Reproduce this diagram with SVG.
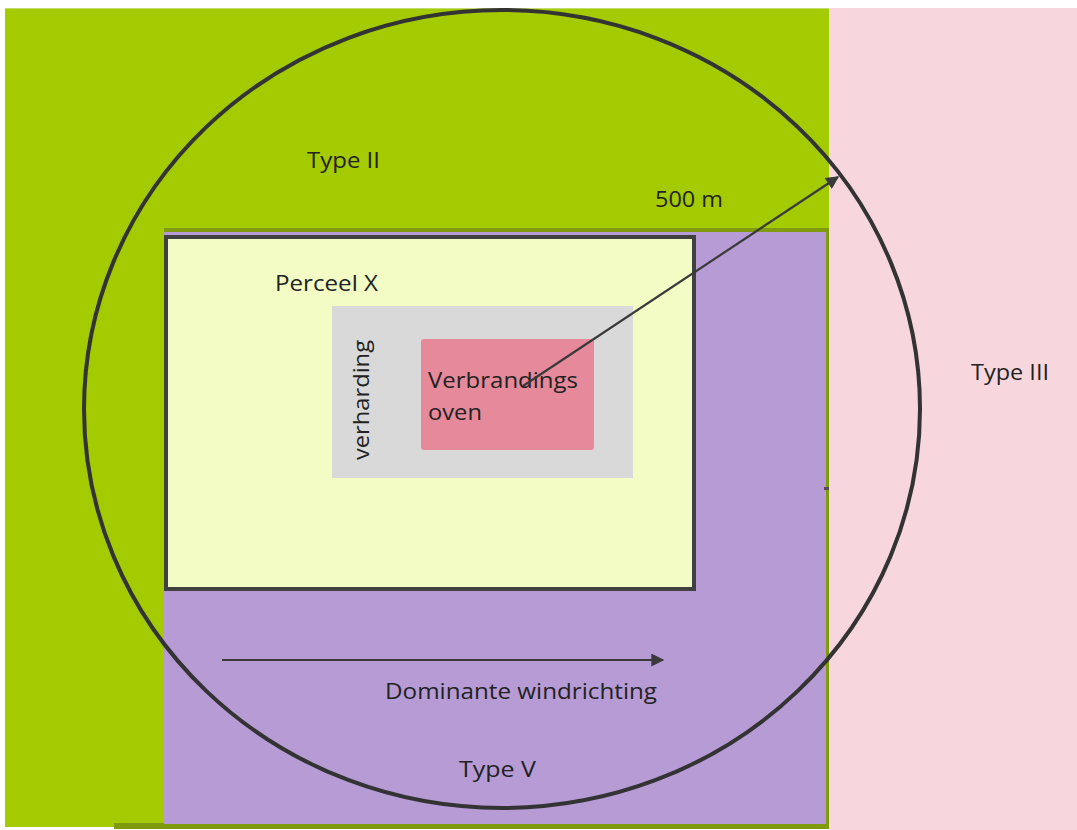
<svg xmlns="http://www.w3.org/2000/svg" width="1077" height="830" viewBox="0 0 1077 830">
<style>
.lbl{font-family:"Open Sans","Liberation Sans",sans-serif;font-size:22px;fill:#222222}
.ln{stroke:#3a3a3a;stroke-width:2.2;fill:none}
</style>
<defs>
<marker id="ah" viewBox="0 0 10 10" refX="9" refY="5" markerWidth="15" markerHeight="13" markerUnits="userSpaceOnUse" orient="auto">
<path d="M0,0 L10,5 L0,10 z" fill="#3a3a3a"/>
</marker>
</defs>
<rect width="1077" height="830" fill="#ffffff"/>
<g id="typeII">
<rect x="5" y="8" width="833" height="2" fill="#c3dc6a"/>
<rect x="5" y="9" width="824" height="818" fill="#a4ca00"/>
<text class="lbl" x="307" y="168" textLength="73" lengthAdjust="spacingAndGlyphs">Type II</text>
</g>
<g id="typeIII">
<rect x="829" y="8" width="248" height="822" fill="#f7d7dd"/>
<text class="lbl" x="971" y="380" textLength="78" lengthAdjust="spacingAndGlyphs">Type III</text>
</g>
<g id="typeV">
<rect x="114" y="823" width="715" height="6" fill="#7f9a0c"/>
<rect x="164" y="228" width="665" height="597" fill="#7f9a0c"/>
<rect x="164" y="232" width="662" height="592" fill="#b69bd5"/>
<rect x="824" y="487" width="5" height="3" fill="#5a4a50"/>
<text class="lbl" x="459" y="777" textLength="77" lengthAdjust="spacingAndGlyphs">Type V</text>
</g>
<g id="perceel">
<rect x="166" y="237" width="528" height="352" fill="#f2fcc4" stroke="#404040" stroke-width="4"/>
<text class="lbl" x="275" y="291" textLength="103" lengthAdjust="spacingAndGlyphs">Perceel X</text>
</g>
<g id="verharding">
<rect x="332" y="306" width="301" height="172" fill="#d9d9d9"/>
<text class="lbl" transform="translate(369,460) rotate(-90)" textLength="120" lengthAdjust="spacingAndGlyphs">verharding</text>
</g>
<g id="oven">
<rect x="421" y="339" width="173" height="111" rx="3" fill="#e6899a"/>
<text class="lbl" x="428" y="388" textLength="150" lengthAdjust="spacingAndGlyphs">Verbrandings</text>
<text class="lbl" x="428" y="420" textLength="54" lengthAdjust="spacingAndGlyphs">oven</text>
</g>
<g id="zone">
<ellipse cx="502" cy="409" rx="418" ry="399" fill="none" stroke="#333333" stroke-width="4"/>
</g>
<g id="connectors">
<line class="ln" x1="523" y1="386" x2="838" y2="177" marker-end="url(#ah)"/>
<line class="ln" x1="222" y1="660" x2="663" y2="660" marker-end="url(#ah)"/>
</g>
<text class="lbl" x="655" y="207" textLength="68" lengthAdjust="spacingAndGlyphs">500 m</text>
<text class="lbl" x="385" y="699" textLength="272" lengthAdjust="spacingAndGlyphs">Dominante windrichting</text>
</svg>
